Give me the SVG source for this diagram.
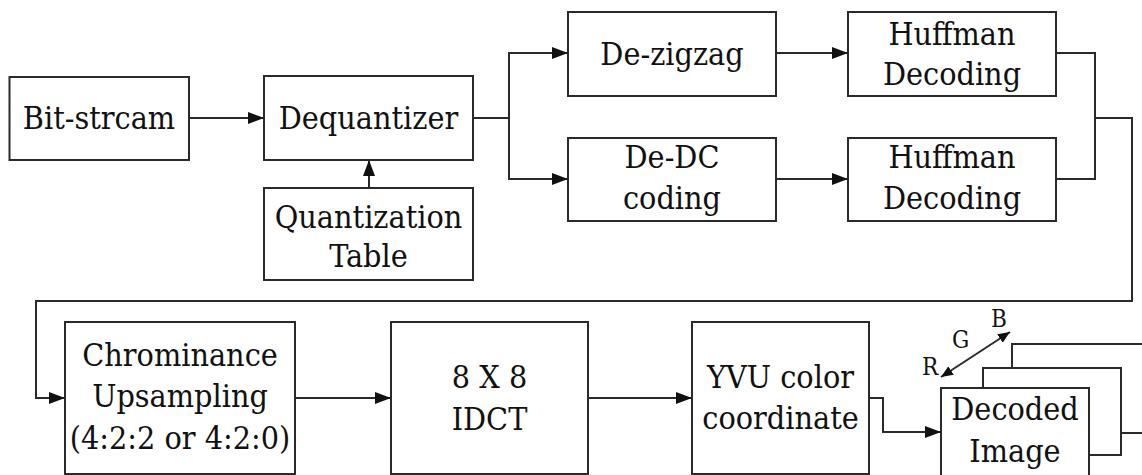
<svg xmlns="http://www.w3.org/2000/svg" width="1142" height="475" viewBox="0 0 1142 475">
  <style>
    .box { fill: #fff; stroke: #2a2a2a; stroke-width: 2; }
    .wire { fill: none; stroke: #2a2a2a; stroke-width: 2; }
  </style>
  <defs>
    <marker id="arrow" markerUnits="userSpaceOnUse" markerWidth="18" markerHeight="14" refX="16" refY="6" orient="auto">
      <path d="M0,0 L16,6 L0,12 z" fill="#111"/>
    </marker>
    <marker id="tip" markerUnits="userSpaceOnUse" markerWidth="14" markerHeight="12" refX="12" refY="5" orient="auto-start-reverse">
      <path d="M0,0 L12,5 L0,10 z" fill="#111"/>
    </marker>
  </defs>

  <rect width="1142" height="475" fill="#fff"/>

  <!-- connectors -->
  <g id="connectors">
    <path class="wire" d="M189,118 H264" marker-end="url(#arrow)"/>
    <path class="wire" d="M369,188 V160" marker-end="url(#arrow)"/>
    <path class="wire" d="M473,118 H509"/>
    <path class="wire" d="M509,118 V53 H568" marker-end="url(#arrow)"/>
    <path class="wire" d="M509,118 V179 H568" marker-end="url(#arrow)"/>
    <path class="wire" d="M776,53 H848" marker-end="url(#arrow)"/>
    <path class="wire" d="M776,179 H848" marker-end="url(#arrow)"/>
    <path class="wire" d="M1056,53 H1095 V179 H1056"/>
    <path class="wire" d="M1095,118 H1132 V301 H36 V398 H65" marker-end="url(#arrow)"/>
    <path class="wire" d="M295,398 H391" marker-end="url(#arrow)"/>
    <path class="wire" d="M588,398 H692" marker-end="url(#arrow)"/>
    <path class="wire" d="M869,398 H883 V432 H941" marker-end="url(#arrow)"/>
    <path class="wire" d="M941,377 L1010,332" marker-start="url(#tip)" marker-end="url(#tip)"/>
  </g>

  <!-- all node labels share a serif face -->
  <g font-family="DejaVu Serif Condensed, DejaVu Serif, serif" font-stretch="condensed" font-size="32" fill="#111" text-anchor="middle">
    <g id="bitstream">
      <rect class="box" x="9.5" y="77" width="179.5" height="83"/>
      <text x="99" y="129">Bit-strcam</text>
    </g>

    <g id="dequantizer">
      <rect class="box" x="264" y="76" width="209" height="84"/>
      <text x="368.5" y="129">Dequantizer</text>
    </g>

    <g id="quant-table">
      <rect class="box" x="264" y="188" width="209" height="92"/>
      <text x="368.5" y="228">Quantization</text>
      <text x="368.5" y="267">Table</text>
    </g>

    <g id="dezigzag">
      <rect class="box" x="568" y="12" width="208" height="84"/>
      <text x="672" y="65">De-zigzag</text>
    </g>

    <g id="dedc">
      <rect class="box" x="568" y="138" width="208" height="83"/>
      <text x="672" y="168">De-DC</text>
      <text x="672" y="209">coding</text>
    </g>

    <g id="huffman-1">
      <rect class="box" x="848" y="12" width="208" height="84"/>
      <text x="952" y="45">Huffman</text>
      <text x="952" y="85">Decoding</text>
    </g>

    <g id="huffman-2">
      <rect class="box" x="848" y="138" width="208" height="83"/>
      <text x="952" y="168">Huffman</text>
      <text x="952" y="209">Decoding</text>
    </g>

    <g id="upsampling">
      <rect class="box" x="65" y="322" width="230" height="152"/>
      <text x="180" y="366">Chrominance</text>
      <text x="180" y="407">Upsampling</text>
      <text x="180" y="449">(4:2:2 or 4:2:0)</text>
    </g>

    <g id="idct">
      <rect class="box" x="391" y="322" width="197" height="152"/>
      <text x="489.5" y="388">8 X 8</text>
      <text x="489.5" y="430">IDCT</text>
    </g>

    <g id="yvu">
      <rect class="box" x="692" y="322" width="177" height="152"/>
      <text x="780.5" y="388">YVU color</text>
      <text x="780.5" y="429">coordinate</text>
    </g>

    <g id="decoded-image">
      <rect class="box" x="1012" y="344" width="200" height="89"/>
      <rect class="box" x="983" y="368" width="138" height="87"/>
      <rect class="box" x="941" y="388" width="148" height="100"/>
      <text x="1015" y="420">Decoded</text>
      <text x="1015" y="462">Image</text>
      <g font-size="24" text-anchor="start">
        <text x="922" y="375">R</text>
        <text x="952" y="348">G</text>
        <text x="991" y="327">B</text>
      </g>
    </g>
  </g>
</svg>
